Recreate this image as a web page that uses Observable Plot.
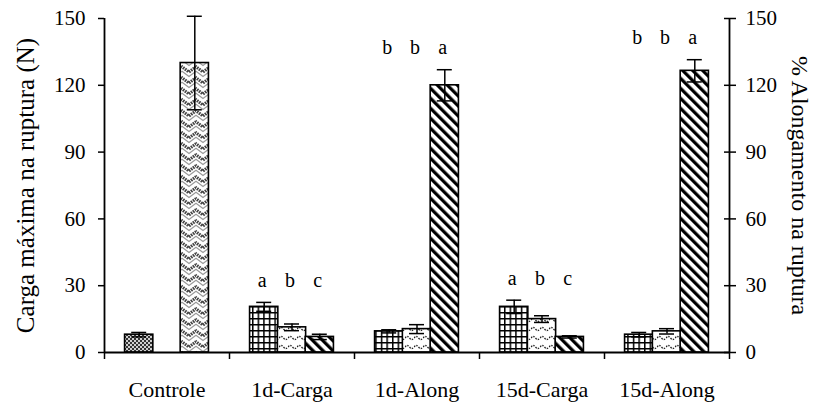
<!DOCTYPE html>
<html>
<head>
<meta charset="utf-8">
<script src="https://cdn.jsdelivr.net/npm/d3@7"></script>
<script src="https://cdn.jsdelivr.net/npm/@observablehq/plot@0.6"></script>
<style>
  html, body { margin: 0; padding: 0; background: #fff; }
</style>
</head>
<body>
<div id="chart"></div>
<script>
// ---- Data ----
const categories = ["Controle", "1d-Carga", "1d-Along", "15d-Carga", "15d-Along"];

// Controle series (pattern: fine dots, slot 1) and (pattern: weave, slot 3)
const valPontilhado = [8, null, null, null, null];
const errPontilhado = [1, null, null, null, null];
const valTrancado   = [130, null, null, null, null];
const errTrancado   = [21, null, null, null, null];

// Treatment series: grid (slot 1), wave (slot 2), wide diagonal (slot 3)
const valGrade     = [null, 20.5, 9.5, 20.5, 8];
const errGrade     = [null, 2, 0.7, 3, 1];
const valOndulado  = [null, 11.3, 10.5, 15, 9.5];
const errOndulado  = [null, 1.5, 2, 1.5, 1.2];
const valDiagonal  = [null, 7, 120, 7, 126.5];
const errDiagonal  = [null, 1.2, 7, 0.5, 5];

// Significance letters
const letrasGrade    = [null, "a", "b", "a", "b"];
const letrasOndulado = [null, "b", "b", "b", "b"];
const letrasDiagonal = [null, "c", "a", "c", "a"];

const yTicks = [0, 30, 60, 90, 120, 150];
const yTitleLeft = "Carga máxima na ruptura (N)";
const yTitleRight = "% Alongamento na ruptura";

// ---- Build table ----
const seriesDefs = [
  {name: "pontilhado", slot: 1, values: valPontilhado, errors: errPontilhado, letters: []},
  {name: "trancado",   slot: 3, values: valTrancado,   errors: errTrancado,   letters: []},
  {name: "grade",      slot: 1, values: valGrade,      errors: errGrade,      letters: letrasGrade},
  {name: "ondulado",   slot: 2, values: valOndulado,   errors: errOndulado,   letters: letrasOndulado},
  {name: "diagonal",   slot: 3, values: valDiagonal,   errors: errDiagonal,   letters: letrasDiagonal}
];
const rows = [];
seriesDefs.forEach(s => s.values.forEach((v, i) => {
  if (v != null) rows.push({gi: i, cat: categories[i], slot: s.slot, series: s.name,
    value: v, err: s.errors[i], letter: s.letters[i] || null});
}));
const groupTop = d3.rollup(rows, v => d3.max(v, d => d.value + d.err), d => d.gi);

const SLOT = 0.2224, BAR = 0.226, CAP = 0.06;
const center = d => d.gi + 0.5 + (d.slot - 2) * SLOT;
const patternNames = seriesDefs.map(s => s.name);

const plot = Plot.plot({
  width: 815,
  height: 405,
  marginLeft: 104,
  marginRight: 86,
  marginTop: 18,
  marginBottom: 53,
  style: {fontFamily: "'Liberation Serif', 'Times New Roman', serif", fontSize: "21px", color: "black", background: "white", overflow: "visible"},
  x: {domain: [0, categories.length]},
  y: {domain: [0, 150]},
  color: {domain: patternNames, range: patternNames.map(n => `url(#pat-${n})`)},
  marks: [
    Plot.rectY(rows, {x1: d => center(d) - BAR / 2, x2: d => center(d) + BAR / 2, y1: 0, y2: "value",
      fill: "series", stroke: "black", strokeWidth: 1.6}),
    Plot.ruleX(rows, {x: center, y1: d => d.value - d.err, y2: d => d.value + d.err, stroke: "black", strokeWidth: 1.5}),
    Plot.ruleY(rows, {y: d => d.value + d.err, x1: d => center(d) - CAP, x2: d => center(d) + CAP, stroke: "black", strokeWidth: 1.5}),
    Plot.ruleY(rows, {y: d => d.value - d.err, x1: d => center(d) - CAP, x2: d => center(d) + CAP, stroke: "black", strokeWidth: 1.5}),
    Plot.ruleX([0, categories.length], {stroke: "black", strokeWidth: 1.8}),
    Plot.ruleY([0], {stroke: "black", strokeWidth: 1.8}),
    Plot.axisY({anchor: "left", ticks: yTicks, tickSize: 6, tickPadding: 13, label: null, strokeWidth: 1.5, fontSize: 21}),
    Plot.axisY({anchor: "right", ticks: yTicks, tickSize: 12, dx: -6, fill: "none", label: null, strokeWidth: 1.5}),
    Plot.axisY({anchor: "right", ticks: yTicks, tickSize: 0, tickPadding: 16, label: null, fontSize: 21}),
    Plot.axisX({ticks: d3.range(categories.length + 1), tickSize: 7, fill: "none", label: null, strokeWidth: 1.5}),
    Plot.axisX({ticks: categories.map((c, i) => i + 0.5), tickSize: 0, tickPadding: 29,
      tickFormat: t => categories[Math.floor(t)], label: null, fontSize: 22}),
    Plot.text(rows.filter(d => d.letter), {x: center, y: d => groupTop.get(d.gi), text: "letter",
      dy: -22, dx: -2, fontSize: 20}),
    Plot.text([yTitleLeft], {frameAnchor: "left", textAnchor: "middle", rotate: -90, dx: -79, fontSize: 25}),
    Plot.text([yTitleRight], {frameAnchor: "right", textAnchor: "middle", rotate: 90, dx: 70, fontSize: 24})
  ]
});

// ---- Fill patterns ----
const svg = d3.select(plot);
const defs = svg.insert("defs", ":first-child");
function pat(id, w, h, transform) {
  const p = defs.append("pattern").attr("id", `pat-${id}`).attr("patternUnits", "userSpaceOnUse")
    .attr("width", w).attr("height", h);
  if (transform) p.attr("patternTransform", transform);
  p.append("rect").attr("width", w).attr("height", h).attr("fill", "white");
  return p;
}
{ // fine dotted (dark)
  const p = pat("pontilhado", 4, 4);
  p.select("rect").attr("fill", "#cfcfcf");
  p.append("rect").attr("x", 0).attr("y", 0).attr("width", 2).attr("height", 2).attr("fill", "#333");
  p.append("rect").attr("x", 2).attr("y", 2).attr("width", 2).attr("height", 2).attr("fill", "#333");
}
{ // weave / chevron (herringbone look)
  const p = pat("trancado", 14, 11);
  for (const o of [-11, 0, 11]) {
    p.append("path").attr("d", `M-1,${o} L7,${o + 6} L15,${o}`).attr("fill", "none")
      .attr("stroke", "#444").attr("stroke-width", 3.2).attr("stroke-dasharray", "1.6 0.9");
    p.append("path").attr("d", `M-1,${o + 4.5} L7,${o + 10.5} L15,${o + 4.5}`).attr("fill", "none")
      .attr("stroke", "#999").attr("stroke-width", 1.2);
  }
}
{ // large grid
  const p = pat("grade", 5.6, 6);
  p.append("rect").attr("x", 0).attr("y", 0).attr("width", 1.5).attr("height", 6).attr("fill", "black");
  p.append("rect").attr("x", 0).attr("y", 0).attr("width", 5.6).attr("height", 1.5).attr("fill", "black");
}
{ // wave (dotted wavy lines)
  const p = pat("ondulado", 9, 9);
  p.append("path").attr("d", "M0,5 Q2.25,2 4.5,5 T9,5").attr("fill", "none")
    .attr("stroke", "#222").attr("stroke-width", 1.3).attr("stroke-dasharray", "1.6 1.1");
}
{ // wide downward diagonal
  const p = pat("diagonal", 7.07, 10, "rotate(-45)");
  p.append("rect").attr("x", 0).attr("y", 0).attr("width", 3.2).attr("height", 10).attr("fill", "black");
}

document.getElementById("chart").appendChild(plot);
</script>
</body>
</html>
